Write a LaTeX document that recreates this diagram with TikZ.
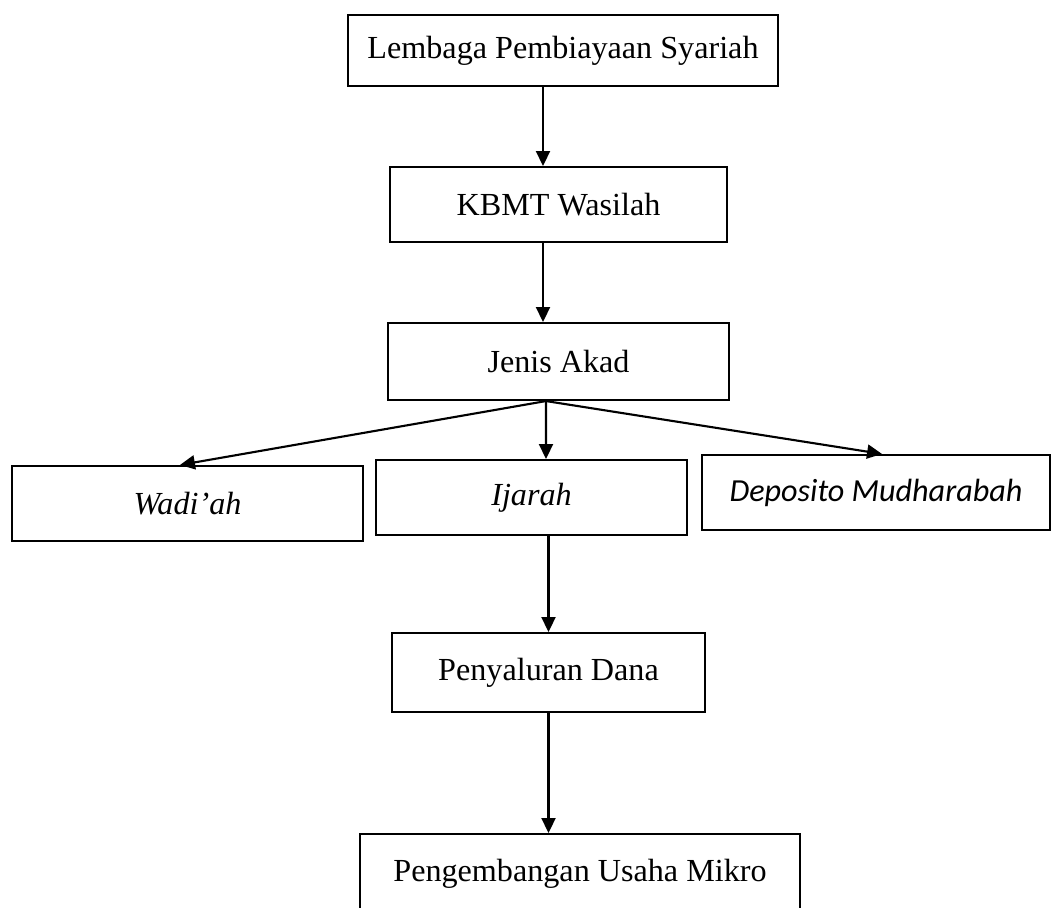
\documentclass[tikz,border=0pt]{standalone}
\usepackage{fontspec}
\setmainfont{Liberation Serif}
\newfontfamily\calibrifont{Carlito}
\usetikzlibrary{arrows.meta,calc}
\newcommand\pxu{0.02cm}
\begin{document}
\begin{tikzpicture}[x=0.02cm, y=-0.02cm,
    box/.style={draw, line width=1.2pt, inner sep=0pt, minimum height=75*\pxu, font=\fontsize{18.3}{22}\selectfont},
    arr/.style={-{Triangle[length=8.5pt, width=8pt]}, line width=1.2pt}]
    \useasboundingbox (0,0) rectangle (1052,907);
    \node[box, minimum width=430*\pxu, minimum height=71*\pxu] (lembaga) at (563,50.5) {Lembaga Pembiayaan Syariah};
    \node[box, minimum width=337*\pxu] (kbmt) at (558.5,204.5) {KBMT Wasilah};
    \node[box, minimum width=341*\pxu, minimum height=77*\pxu] (akad) at (558.5,361.5) {Jenis Akad};
    \node[box, minimum width=351*\pxu] (wadiah) at (187.5,503.5) {\itshape Wadi'ah};
    \node[box, minimum width=311*\pxu] (ijarah) at (531.5,497.5) {\itshape Ijarah};
    \node[box, minimum width=348*\pxu] (deposito) at (876,492.5) {\calibrifont\itshape Deposito Mudharabah};
    \node[box, minimum width=313*\pxu, minimum height=79*\pxu] (salur) at (548.5,672.5) {Penyaluran Dana};
    \node[box, minimum width=440*\pxu, minimum height=80*\pxu] (usaha) at (580,874) {Pengembangan Usaha Mikro};
    \coordinate (cabang) at ($(akad.south)+(-12.5,0)$);
    \draw[arr] ($(lembaga.south)+(-20,0)$) -- ($(kbmt.north)+(-15.5,0)$);
    \draw[arr] ($(kbmt.south)+(-15.5,0)$) -- ($(akad.north)+(-15.5,0)$);
    \draw[arr] (cabang) -- ($(wadiah.north)+(-7.5,0)$);
    \draw[arr] (cabang) -- ($(ijarah.north)+(14.5,0)$);
    \draw[arr] (cabang) -- ($(deposito.north)+(6,0)$);
    \draw[arr] ($(ijarah.south)+(17,0)$) -- (salur.north);
    \draw[arr] (salur.south) -- (salur.south |- usaha.north);
\end{tikzpicture}
\end{document}
